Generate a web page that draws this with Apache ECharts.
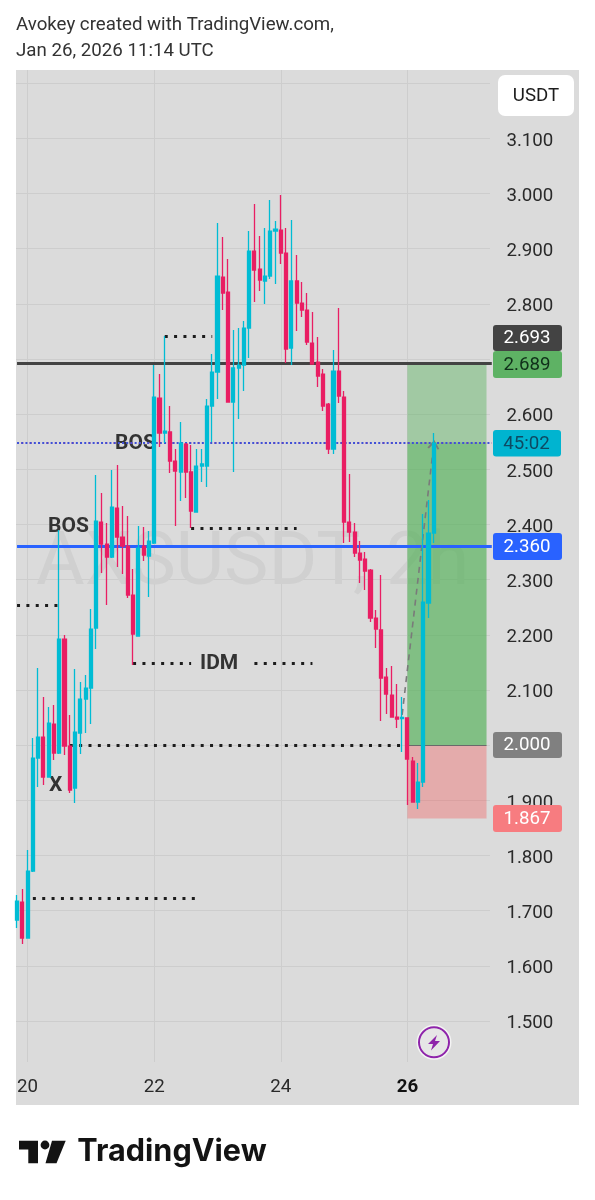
<!DOCTYPE html>
<html><head><meta charset="utf-8">
<style>html,body{margin:0;padding:0;background:#fff}#c{width:595px;height:1200px}</style>
<script src="https://cdn.jsdelivr.net/npm/echarts@6/dist/echarts.min.js"></script>
</head><body><div id="c"></div>
<script>
const opens=[1.683,1.7157,1.6505,1.7719,1.9767,2.0148,1.9423,2.0384,1.9858,2.1924,1.9985,1.9224,2.0221,2.0837,2.1036,2.2124,2.4045,2.3646,2.3411,2.4299,
2.3773,2.3610,2.2722,2.1979,2.3610,2.3429,2.3664,2.6293,2.5658,2.5677,2.5151,2.4952,2.5459,2.4952,2.4227,2.5060,2.5060,2.6148,2.6764,2.8486,
2.8214,2.6220,2.6837,2.6891,2.7562,2.8957,2.8631,2.8414,2.8504,2.9320,2.9338,2.8921,2.7199,2.8414,2.8015,2.7888,2.7290,2.6945,2.6728,2.6184,
2.5368,2.6782,2.6311,2.4045,2.3864,2.3483,2.3374,2.3175,2.2305,2.2088,2.1236,2.0909,2.0511,2.0483,2.0493,1.9713,1.8970,1.9332,2.2577,2.3846];
const closes=[1.7175,1.6505,1.7719,1.9767,2.0148,1.9423,2.0402,1.9858,2.1924,1.9985,1.9188,2.0239,2.0837,2.1036,2.2106,2.4063,2.3646,2.3411,2.4317,2.3773,
2.3610,2.2722,2.2015,2.3574,2.3447,2.3701,2.6311,2.5658,2.5695,2.5151,2.4970,2.5477,2.4952,2.4245,2.5060,2.5097,2.6148,2.6764,2.8504,2.8196,
2.6220,2.6837,2.6891,2.7562,2.8957,2.8613,2.8432,2.8504,2.9320,2.9356,2.8921,2.7181,2.8414,2.8015,2.7888,2.7308,2.6909,2.6692,2.6148,2.5368,
2.6782,2.6329,2.4045,2.3864,2.3483,2.3356,2.3157,2.2305,2.2106,2.1218,2.0927,2.0511,2.0474,2.0502,1.9749,1.8970,1.9332,2.2595,2.3846,2.5477];
const lows=[1.6686,1.6396,1.6505,1.7701,1.9242,1.9278,1.9423,1.9731,1.9840,1.9822,1.9133,1.8952,1.9840,2.0221,2.0384,2.1743,2.3121,2.2541,2.3393,2.3229,
2.3103,2.2668,2.1453,2.1979,2.3338,2.2686,2.3646,2.5405,2.5477,2.4933,2.3973,2.4426,2.4480,2.3937,2.4227,2.4770,2.4680,2.5495,2.6275,2.7888,
2.6220,2.4952,2.5912,2.6420,2.7018,2.8033,2.8232,2.7997,2.8450,2.8359,2.8722,2.6927,2.6891,2.7507,2.7761,2.7254,2.6909,2.6492,2.6057,2.5278,
2.5278,2.6202,2.3664,2.3683,2.3411,2.2940,2.2813,2.2233,2.1761,2.0438,2.0565,2.0511,2.0311,1.9876,1.8915,1.8970,1.8843,1.9242,2.2305,2.3664];
const highs=[1.7284,1.7393,1.8100,2.0130,2.1399,2.0873,2.0692,2.0728,2.3900,2.1997,2.0547,2.1381,2.1145,2.1272,2.2468,2.4897,2.4571,2.4027,2.4988,2.5078,
2.4335,2.4154,2.3193,2.3973,2.3955,2.3882,2.6891,2.6728,2.7417,2.6148,2.5368,2.5858,2.5477,2.5441,2.5368,2.5368,2.6275,2.7091,2.9465,2.9211,
2.8812,2.7525,2.7562,2.7689,2.9320,2.9809,2.9229,2.9374,2.9882,2.9501,2.9972,2.9374,2.9519,2.8885,2.8396,2.8196,2.7852,2.7398,2.6819,2.6202,
2.7163,2.7924,2.6420,2.4915,2.4027,2.3701,2.3501,2.3193,2.2450,2.3085,2.1399,2.1435,2.1109,2.0873,2.0502,1.9786,1.9677,2.4190,2.4444,2.5658];
const slotCount=91;
const tickIndex=[2,26,50,74];
const tickLabels=['20','22','24','26'];
const priceTicks=[1.5,1.6,1.7,1.8,1.9,2.0,2.1,2.2,2.3,2.4,2.5,2.6,2.7,2.8,2.9,3.0,3.1];
const gridTicks=priceTicks.concat([3.2]);
const resistance=2.693, target=2.689, lastPrice=2.549, support=2.36, entry=2.0, stop=1.867;
const dottedLevels=[[0,8,2.254],[3,34,1.723],[10,73,2.0],[22,33,2.149],[45,56,2.149],[33,53,2.394],[28,37,2.741]];
const tagTexts=['2.693','2.689','45:02','2.360','2.000','1.867'];

const UP='#00bcd4',DOWN='#e91e63',PANEL='#dbdbdb',INK='#2a2a2a',FONT='Roboto',FS=18.7;
const categories=[];for(let i=0;i<slotCount;i++)categories.push('bar '+i);
const candleData=opens.map((o,i)=>[o,closes[i],lows[i],highs[i]]);

const seg=(a,va,b,vb,style)=>[{xAxis:a,yAxis:va,lineStyle:style},{xAxis:b,yAxis:vb,lineStyle:style}];
const solid=(c,w)=>({color:c,width:w,type:'solid'});
const dots={color:'#1c1c1c',width:3,type:[3,6.35]};

const txt=(text,x,y,size,o={})=>({type:'text',z:o.z==null?20:o.z,silent:true,style:{text,x,y,fill:o.fill||INK,
  font:(o.weight||'400')+' '+size+'px '+(o.family||FONT),align:o.align||'left',verticalAlign:'middle'}});
const rect=(x,y,w,h,fill,z,r)=>({type:'rect',z,silent:true,shape:{x,y,width:w,height:h,r:r||0},style:{fill}});
const tag=(y,h,w,fill,color,text)=>[rect(493,y,w,h,fill,20,3),txt(text,493+(w-1)/2,y+h/2+0.8,FS,{fill:color,align:'center',z:21})];

const graphics=[
  rect(16,70,563,1035,PANEL,-1),
  rect(0,60,16,1050,'#ffffff',1),
  rect(490,70,5,992,PANEL,1),
  txt('AXSUSDT, 2h',36,565,74.6,{fill:'#d0d0d0',z:1}),
  txt('Avokey created with TradingView.com,',16,25.5,FS,{fill:'#333'}),
  txt('Jan 26, 2026 11:14 UTC',16,51,FS,{fill:'#333'}),
  rect(498,75,76,41,'#ffffff',20,7),
  txt('USDT',536,96,FS,{fill:'#1c1c1c',align:'center',z:21}),
  txt('BOS',115,444,21,{weight:'700',fill:'#333',z:1}),
  txt('BOS',48,527,21,{weight:'700',fill:'#333',z:1}),
  txt('X',49,786,21,{weight:'700',fill:'#333',z:1}),
  txt('IDM',200,664,21,{weight:'700',fill:'#333',z:1}),
  ...tag(325,26,69,'#434343','#ffffff',tagTexts[0]),
  ...tag(351,27,69,'#5eb264','#10301a',tagTexts[1]),
  ...tag(430,26.5,68,'#00b4d0','#0d4a63',tagTexts[2]),
  ...tag(533,27,69,'#2962ff','#ffffff',tagTexts[3]),
  ...tag(732,26,69,'#808080','#ffffff',tagTexts[4]),
  ...tag(805,27,69,'#f77c80','#ffffff',tagTexts[5]),
  {type:'circle',z:20,silent:true,shape:{cx:434,cy:1042.3,r:15.7},style:{fill:'#e6e6e6',stroke:'#f4f4f4',lineWidth:3.5}},
  {type:'circle',z:21,silent:true,shape:{cx:434,cy:1042.3,r:15},style:{fill:'none',stroke:'#8e24aa',lineWidth:2}},
  {type:'polygon',z:21,silent:true,shape:{points:[[437,1035],[428,1044],[433,1044],[431,1050.5],[440,1041],[435,1041]]},style:{fill:'#8e24aa'}},
  {type:'polygon',z:20,silent:true,shape:{points:[[19,1140.7],[38,1140.7],[38,1163.3],[28.3,1163.3],[28.3,1149.5],[19,1149.5]]},style:{fill:'#131313'}},
  {type:'circle',z:20,silent:true,shape:{cx:45,cy:1145,r:4.4},style:{fill:'#131313'}},
  {type:'polygon',z:20,silent:true,shape:{points:[[52,1140.7],[65.7,1140.7],[56.5,1163.3],[45.5,1163.3]]},style:{fill:'#131313'}},
  txt('TradingView',77.3,1152,30.6,{weight:'700',family:'Inter',fill:'#131313'})
];

const option={
  animation:false,
  backgroundColor:'#ffffff',
  textStyle:{fontFamily:FONT},
  grid:{left:14.4,top:70,width:480.03,height:992,containLabel:false},
  xAxis:{type:'category',data:categories,boundaryGap:true,
    axisLine:{show:false},axisTick:{show:false},
    splitLine:{show:true,alignWithLabel:true,interval:i=>tickIndex.includes(i),lineStyle:{color:'#cdcdcd',width:1}},
    axisLabel:{show:true,interval:0,margin:14,fontSize:FS,color:INK,fontFamily:FONT,alignWithLabel:true,hideOverlap:false,
      padding:[2,0,0,0],
      formatter:(v,i)=>{const k=tickIndex.indexOf(i);if(k<0)return '';return k===3?'{b|'+tickLabels[k]+'}':tickLabels[k];},
      rich:{b:{fontSize:FS,fontWeight:'bold',color:'#111',fontFamily:FONT}}}},
  yAxis:{type:'value',position:'right',min:1.4258,max:3.2239,scale:true,
    axisLine:{show:false},axisTick:{show:false,customValues:gridTicks},
    splitLine:{show:true,lineStyle:{color:'#cdcdcd',width:1}},
    axisLabel:{show:true,customValues:priceTicks,inside:false,margin:12,fontSize:FS,color:INK,fontFamily:FONT,verticalAlign:'top',lineHeight:5,formatter:v=>v.toFixed(3)}},
  graphic:{elements:graphics},
  series:[
    {type:'line',name:'levels',data:[],z:2,silent:true,
      markLine:{silent:true,symbol:'none',animation:false,label:{show:false},emphasis:{disabled:true},
        data:[
          seg(0,support,90,support,solid('#2962ff',3)),
          ...dottedLevels.map(d=>seg(d[0],d[2],d[1],d[2],dots))
        ]}},
    {type:'line',name:'position',data:[],z:3,silent:true,
      markArea:{silent:true,animation:false,label:{show:false},emphasis:{disabled:true},
        data:[
          [{xAxis:74,yAxis:target,itemStyle:{color:'rgba(76,175,80,0.40)'}},{xAxis:89,yAxis:lastPrice}],
          [{xAxis:74,yAxis:lastPrice,itemStyle:{color:'rgba(76,175,80,0.63)'}},{xAxis:89,yAxis:entry}],
          [{xAxis:74,yAxis:entry,itemStyle:{color:'rgba(250,60,60,0.30)'}},{xAxis:89,yAxis:stop}]
        ]}},
    {type:'line',name:'top',data:[],z:4,silent:true,
      markLine:{silent:true,symbol:'none',animation:false,label:{show:false},emphasis:{disabled:true},
        data:[
          seg(0,resistance,90,resistance,solid('#434343',3)),
          seg(74,entry,89,entry,solid('#6a6a6a',1)),
          seg(0,lastPrice,90,lastPrice,{color:'#e0457e',width:2,type:[2,6.4],dashOffset:4.2}),
          seg(0,lastPrice,90,lastPrice,{color:'#3f51d8',width:2,type:[2,2.2]})
        ]}},
    {type:'candlestick',name:'AXSUSDT',data:candleData,z:5,barWidth:3.6,clip:false,
      itemStyle:{color:UP,color0:DOWN,borderColor:UP,borderColor0:DOWN,borderWidth:1.3}},
    {type:'line',name:'path',data:[],z:6,silent:true,
      markLine:{silent:true,animation:false,label:{show:false},emphasis:{disabled:true},
        symbol:['none','path://M0 0 L5 9 L3.6 9.8 L0 3.4 L-3.6 9.8 L-5 9 Z'],symbolSize:[12,9],
        data:[seg(73,2.055,79,2.545,{color:'#7a7a7a',width:1.6,type:[6,5]})]}}
  ]
};
const chart=echarts.init(document.getElementById('c'),null,{renderer:'canvas',width:595,height:1200});
chart.setOption(option);
</script></body></html>
